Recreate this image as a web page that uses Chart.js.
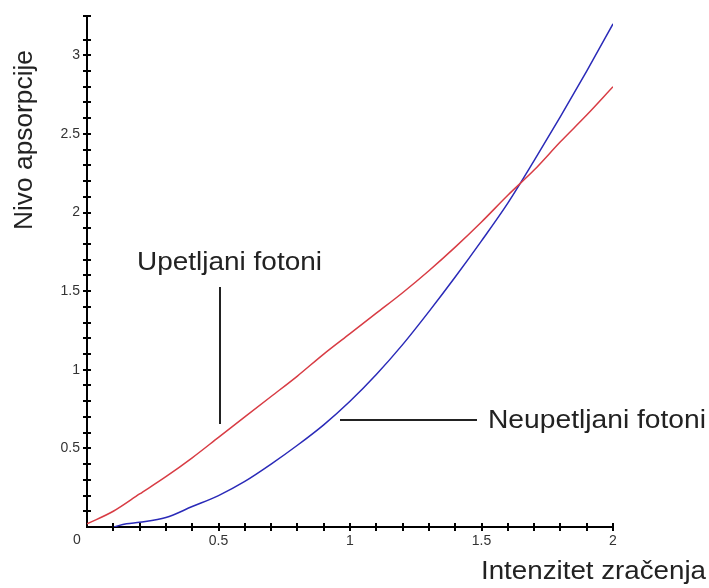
<!DOCTYPE html>
<html>
<head>
<meta charset="utf-8">
<script src="https://cdn.jsdelivr.net/npm/chart.js@4/dist/chart.umd.min.js"></script>
<style>
  body { margin: 0; background: #fff; }
  #wrap { width: 709px; height: 588px; }
</style>
</head>
<body>
<div id="wrap"><canvas id="canvas1" width="709" height="588"></canvas></div>
<script>
// values
var xUpetljani = [0, 0.1, 0.2, 0.3, 0.4, 0.5, 0.6, 0.7, 0.8, 0.9, 1.0, 1.1, 1.2, 1.3, 1.4, 1.5, 1.6, 1.7, 1.8, 1.9, 2.0];
var yUpetljani = [0.02, 0.1, 0.21, 0.32, 0.44, 0.57, 0.7, 0.83, 0.96, 1.1, 1.23, 1.36, 1.49, 1.63, 1.78, 1.94, 2.11, 2.27, 2.45, 2.62, 2.8];
var xNeupetljani = [0.1, 0.15, 0.2, 0.3, 0.4, 0.5, 0.6, 0.7, 0.8, 0.9, 1.0, 1.1, 1.2, 1.3, 1.4, 1.5, 1.6, 1.7, 1.8, 1.9, 2.0];
var yNeupetljani = [0.0, 0.02, 0.03, 0.06, 0.13, 0.2, 0.29, 0.4, 0.52, 0.65, 0.8, 0.97, 1.16, 1.37, 1.59, 1.82, 2.06, 2.33, 2.61, 2.9, 3.2];
var labelX = "Intenzitet zračenja";
var labelY = "Nivo apsorpcije";
var labelUp = "Upetljani fotoni";
var labelNeup = "Neupetljani fotoni";

function pts(xs, ys) {
    return xs.map(function (x, i) { return { x: x, y: ys[i] }; });
}

function tickLabel(v) {
    var h = v * 2;
    if (v === 0 || Math.abs(h - Math.round(h)) > 1e-6) return '';
    return String(Math.round(h) / 2);
}

// draw text stretched to a given width
function fitText(ctx, txt, x, y, w, rot) {
    ctx.save();
    ctx.translate(x, y);
    if (rot) ctx.rotate(rot);
    var m = ctx.measureText(txt).width;
    ctx.scale(w / m, 1);
    ctx.fillText(txt, 0, 0);
    ctx.restore();
}

var decor = {
    id: 'decor',
    afterDraw: function (chart) {
        var ctx = chart.ctx;
        var xs = chart.scales.x, ys = chart.scales.y;
        var x0 = xs.getPixelForValue(0), y0 = ys.getPixelForValue(0);
        ctx.save();
        ctx.strokeStyle = '#000';
        ctx.lineWidth = 2;
        ctx.beginPath();
        xs.ticks.forEach(function (t) {
            if (t.value === 0) return;
            var px = Math.round(xs.getPixelForValue(t.value));
            ctx.moveTo(px, y0 - 4);
            ctx.lineTo(px, y0 + 4);
        });
        ys.ticks.forEach(function (t) {
            if (t.value === 0) return;
            var py = Math.round(ys.getPixelForValue(t.value));
            ctx.moveTo(x0 - 4, py);
            ctx.lineTo(x0 + 4, py);
        });
        ctx.stroke();

        // origin label
        ctx.fillStyle = '#333';
        ctx.font = '14px "Liberation Sans", Arial, sans-serif';
        ctx.textAlign = 'center';
        ctx.textBaseline = 'middle';
        ctx.fillText('0', x0 - 10, y0 + 13);

        // annotation pointers
        ctx.strokeStyle = '#222';
        ctx.lineWidth = 2;
        ctx.beginPath();
        ctx.moveTo(220, 287);
        ctx.lineTo(220, 424);
        ctx.moveTo(340, 420);
        ctx.lineTo(477, 420);
        ctx.stroke();

        ctx.fillStyle = '#222';
        ctx.font = '25px "Liberation Sans", Arial, sans-serif';
        ctx.textAlign = 'left';
        ctx.textBaseline = 'alphabetic';
        fitText(ctx, labelUp, 137, 270, 185, 0);
        fitText(ctx, labelNeup, 488, 428, 218, 0);
        fitText(ctx, labelX, 481, 579, 225, 0);
        fitText(ctx, labelY, 32, 230, 180, -Math.PI / 2);
        ctx.restore();
    }
};

new Chart(document.getElementById('canvas1'), {
    type: 'line',
    data: {
        datasets: [{
            label: labelUp,
            data: pts(xUpetljani, yUpetljani),
            borderColor: '#d83c44',
            borderWidth: 1.5,
            pointRadius: 0,
            cubicInterpolationMode: 'monotone'
        }, {
            label: labelNeup,
            data: pts(xNeupetljani, yNeupetljani),
            borderColor: '#2a2ab8',
            borderWidth: 1.5,
            pointRadius: 0,
            cubicInterpolationMode: 'monotone'
        }]
    },
    options: {
        responsive: false,
        animation: false,
        layout: { padding: { top: 16, right: 96, left: 0, bottom: 0 } },
        plugins: { legend: { display: false }, tooltip: { enabled: false } },
        scales: {
            x: {
                type: 'linear',
                min: 0, max: 2,
                grid: { display: false, drawTicks: false },
                border: { display: true, color: '#000', width: 2 },
                ticks: {
                    stepSize: 0.1, autoSkip: false, maxRotation: 0, padding: 6,
                    color: '#333',
                    font: { family: '"Liberation Sans", Arial, sans-serif', size: 14 },
                    callback: tickLabel
                },
                afterFit: function (s) { s.height = 61; }
            },
            y: {
                type: 'linear',
                min: 0, max: 3.25,
                grid: { display: false, drawTicks: false },
                border: { display: true, color: '#000', width: 2 },
                ticks: {
                    stepSize: 0.1, autoSkip: false, padding: 7,
                    color: '#333',
                    font: { family: '"Liberation Sans", Arial, sans-serif', size: 14 },
                    callback: tickLabel
                },
                afterFit: function (s) { s.width = 87; }
            }
        }
    },
    plugins: [decor]
});
</script>
</body>
</html>
